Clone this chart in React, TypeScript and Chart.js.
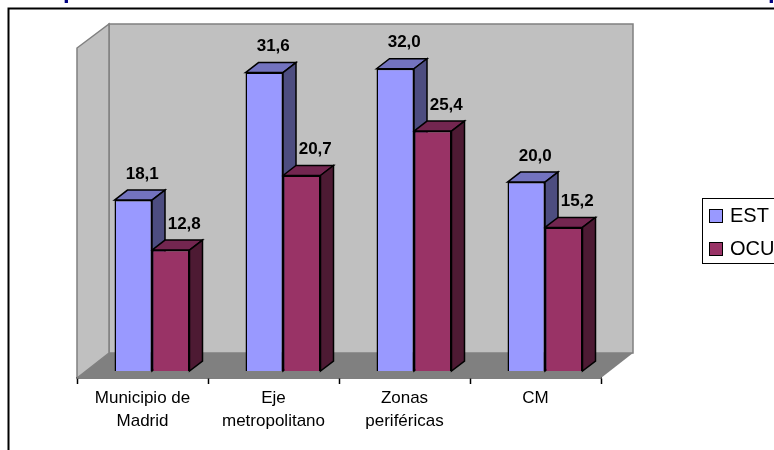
import React, { useEffect, useRef } from "react";
import { Chart, registerables } from "chart.js";

Chart.register(...registerables);

const categories = [["Municipio de", "Madrid"], ["Eje", "metropolitano"], ["Zonas", "periféricas"], ["CM"]];
const estValues = [18.1, 31.6, 32.0, 20.0];
const ocuValues = [12.8, 20.7, 25.4, 15.2];
const seriesNames = ["EST", "OCU"];
const clippedTitleLetters = ["p", "p"];

const DX = 13, DY = 10, SHIFT = 9.5;
const faces = [
  { front: "#9999FF", side: "#4D4D80", top: "#7373BF", lab: 9 },
  { front: "#993366", side: "#4D1A33", top: "#732650", lab: 13.5 },
];

function poly(ctx: CanvasRenderingContext2D, pts: number[][], fill: string, stroke?: string, lw = 1) {
  ctx.beginPath();
  pts.forEach((p, i) => (i ? ctx.lineTo(p[0], p[1]) : ctx.moveTo(p[0], p[1])));
  ctx.closePath();
  ctx.fillStyle = fill;
  ctx.fill();
  if (stroke) {
    ctx.strokeStyle = stroke;
    ctx.lineWidth = lw;
    ctx.lineJoin = "miter";
    ctx.stroke();
  }
}

function extrude(ctx: CanvasRenderingContext2D, meta: any, f: any) {
  meta.data.forEach((bar: any) => {
    const { x, y, base, width } = bar.getProps(["x", "y", "base", "width"], true);
    const l = x - width / 2, r = x + width / 2;
    poly(ctx, [[l, y], [l + DX, y - DY], [r + DX, y - DY], [r, y]], f.top, "#000", 1.5);
    poly(ctx, [[r, y], [r + DX, y - DY], [r + DX, base - DY], [r, base]], f.side, "#000", 1.5);
  });
}

const scene = {
  id: "scene",
  beforeDatasetsDraw(chart: any) {
    const { ctx, chartArea: a } = chart;
    const L = a.left, R = a.right, B = a.bottom, T = a.top;
    const wx = 32, wy = 24;
    ctx.save();
    // title fragments cut off by the top edge
    ctx.fillStyle = "#000080";
    ctx.font = "bold 24px 'Liberation Sans'";
    ctx.textBaseline = "alphabetic";
    ctx.textAlign = "left";
    ctx.fillText(clippedTitleLetters[0], 63, -2.5);
    ctx.fillText(clippedTitleLetters[1], 768, -2.5);
    poly(ctx, [[L + wx, T - wy], [R + wx, T - wy], [R + wx, B - wy - 1], [L + wx, B - wy - 1]], "#C0C0C0", "#808080", 1.5);
    poly(ctx, [[L, T], [L + wx, T - wy], [L + wx, B - wy - 1], [L, B]], "#C0C0C0", "#808080", 1.5);
    poly(ctx, [[L, B], [L + wx, B - wy - 1], [R + wx, B - wy - 1], [R, B]], "#808080");
    ctx.restore();
    // frame
    ctx.save();
    ctx.strokeStyle = "#000";
    ctx.lineWidth = 2;
    ctx.beginPath();
    ctx.moveTo(8.5, 450);
    ctx.lineTo(8.5, 8.5);
    ctx.lineTo(774, 8.5);
    ctx.stroke();
    ctx.restore();
  },
  beforeDatasetDraw(chart: any, args: any) {
    const { ctx } = chart;
    ctx.save();
    ctx.translate(SHIFT, 0);
    // OCU (index 1) is drawn first by the library; both extrusions go down before the front faces
    if (args.index === 1) {
      extrude(ctx, chart.getDatasetMeta(0), faces[0]);
      extrude(ctx, chart.getDatasetMeta(1), faces[1]);
    }
  },
  afterDatasetDraw(chart: any) {
    chart.ctx.restore();
  },
  afterDatasetsDraw(chart: any) {
    const { ctx } = chart;
    ctx.save();
    ctx.fillStyle = "#000";
    ctx.font = "bold 17px 'Liberation Sans'";
    ctx.textAlign = "center";
    ctx.textBaseline = "middle";
    chart.data.datasets.forEach((ds: any, i: number) => {
      chart.getDatasetMeta(i).data.forEach((bar: any, j: number) => {
        ctx.fillText(ds.data[j].toFixed(1).replace(".", ","), bar.x + SHIFT + faces[i].lab, bar.y - 26);
      });
    });
    // legend
    const lx = 702, ly = 198;
    ctx.strokeStyle = "#000";
    ctx.lineWidth = 1;
    ctx.strokeRect(lx + 0.5, ly + 0.5, 100, 65);
    ctx.font = "20px 'Liberation Sans'";
    ctx.textAlign = "left";
    chart.data.datasets.forEach((ds: any, i: number) => {
      const y = ly + 11 + i * 33;
      ctx.fillStyle = faces[i].front;
      ctx.fillRect(lx + 7.5, y + 0.5, 13, 13);
      ctx.strokeRect(lx + 7.5, y + 0.5, 13, 13);
      ctx.fillStyle = "#000";
      ctx.fillText(ds.label, lx + 28, y + 7);
    });
    ctx.restore();
  },
};

export default function App() {
  const ref = useRef<HTMLCanvasElement>(null);
  useEffect(() => {
    const chart = new Chart(ref.current!, {
      type: "bar",
      data: {
        labels: categories as any,
        datasets: [
          { label: seriesNames[0], data: estValues, backgroundColor: faces[0].front, borderColor: "#000", borderWidth: 1.5 },
          { label: seriesNames[1], data: ocuValues, backgroundColor: faces[1].front, borderColor: "#000", borderWidth: 1.5 },
        ],
      },
      options: {
        responsive: false,
        animation: false,
        layout: { padding: { left: 77, right: 173, top: 48, bottom: 0 } },
        plugins: { legend: { display: false }, tooltip: { enabled: false }, title: { display: false } },
        datasets: { bar: { categoryPercentage: 75 / 131, barPercentage: 1 } },
        scales: {
          x: {
            offset: true,
            afterFit(s: any) { s.height = 72; },
            border: { display: true, color: "#000", width: 1.5 },
            grid: { display: true, offset: true, drawOnChartArea: false, color: "#000", tickLength: 6, tickWidth: 1.5 },
            ticks: { color: "#000", font: { family: "'Liberation Sans'", size: 17, lineHeight: 1.35 }, maxRotation: 0, minRotation: 0, padding: 3, autoSkip: false },
          },
          y: { display: false, min: -0.74, max: 34.2 },
        },
      },
      plugins: [scene],
    } as any);
    return () => chart.destroy();
  }, []);
  return (
    <div style={{ position: "fixed", left: 0, top: 0, width: 774, height: 450, overflow: "hidden", background: "#fff" }}>
      <canvas ref={ref} width={774} height={450} style={{ display: "block" }} />
    </div>
  );
}
